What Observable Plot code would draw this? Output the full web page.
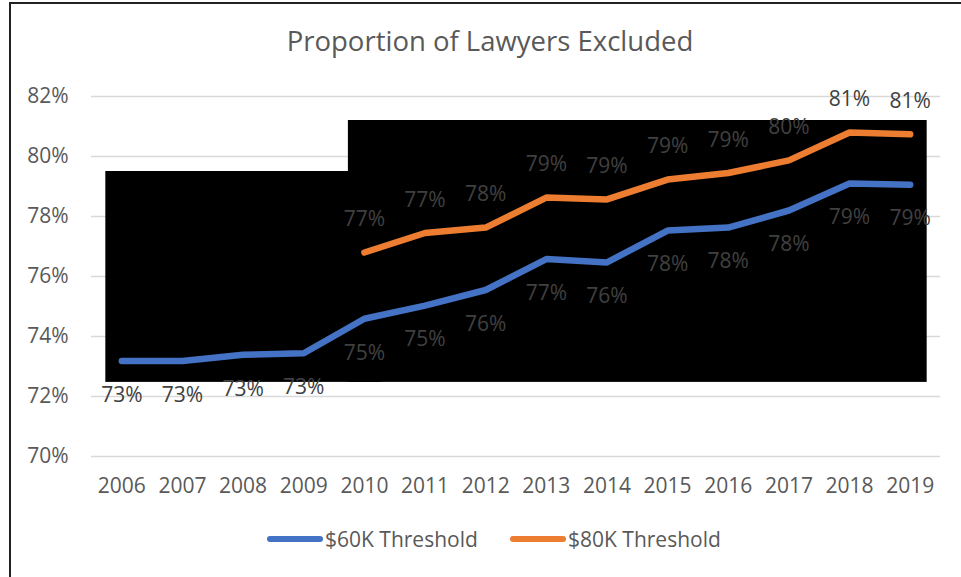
<!DOCTYPE html>
<html>
<head>
<meta charset="utf-8">
<script src="https://cdn.jsdelivr.net/npm/d3@7"></script>
<script src="https://cdn.jsdelivr.net/npm/@observablehq/plot@0.6"></script>
<style>
  html, body { margin: 0; padding: 0; background: #fff; }
  #frame { position: relative; width: 961px; height: 577px; overflow: hidden; background: #fff; font-family: "Open Sans", sans-serif; }
  #border { position: absolute; left: 9px; top: 2px; width: 960px; height: 580px; border-left: 2px solid #222; border-top: 2px solid #222; box-sizing: border-box; }
  #title { position: absolute; left: 0; width: 980px; top: 22px; text-align: center; font-size: 27.5px; color: #595959; }
  #chart { position: absolute; left: 0; top: 70px; }
  #legend { position: absolute; top: 525px; left: 0; width: 961px; height: 30px; font-size: 21px; color: #595959; }
  .item { position: absolute; top: 0; display: flex; align-items: center; }
  .swatch { width: 56px; height: 6px; border-radius: 3px; margin-right: 2px; }
</style>
</head>
<body>
<div id="frame">
  <div id="border"></div>
  <div id="title">Proportion of Lawyers Excluded</div>
  <div id="chart"></div>
  <div id="legend"></div>
</div>
<script>
const years = [2006, 2007, 2008, 2009, 2010, 2011, 2012, 2013, 2014, 2015, 2016, 2017, 2018, 2019];
const threshold60K = [73.18, 73.18, 73.39, 73.44, 74.59, 75.03, 75.55, 76.58, 76.47, 77.53, 77.63, 78.2, 79.1, 79.06];
const threshold80K = [null, null, null, null, 76.8, 77.45, 77.63, 78.63, 78.57, 79.23, 79.45, 79.87, 80.8, 80.74];
const seriesNames = ["$60K Threshold", "$80K Threshold"];
const seriesColors = ["#4472C4", "#ED7D31"];
const yTicks = [70, 72, 74, 76, 78, 80, 82];
// dark panels present in the reference image, in data units
const darkPanels = [
  {from: 2006, to: 2010, bottom: 72.47, top: 79.5},
  {from: 2010, to: 2019, bottom: 72.47, top: 81.2}
];

const rows = [];
years.forEach((yr, i) => {
  rows.push({year: yr, value: threshold60K[i], series: seriesNames[0]});
  if (threshold80K[i] != null) rows.push({year: yr, value: threshold80K[i], series: seriesNames[1]});
});
const s60 = rows.filter(d => d.series === seriesNames[0]);
const s80 = rows.filter(d => d.series === seriesNames[1]);

const chart = Plot.plot({
  width: 961,
  height: 440,
  marginTop: 26,
  marginBottom: 54,
  marginLeft: 91,
  marginRight: 21,
  style: {fontFamily: "Open Sans, sans-serif", background: "transparent", overflow: "visible"},
  x: {domain: [years[0] - 0.5, years[years.length - 1] + 0.5], ticks: years, tickFormat: d => String(d), tickSize: 0, tickPadding: 22, label: null},
  y: {domain: [70, 82], ticks: yTicks, tickFormat: d => d + "%", tickSize: 0, tickPadding: 23, label: null},
  color: {domain: seriesNames, range: seriesColors},
  marks: [
    Plot.ruleY(yTicks, {stroke: "#d9d9d9", strokeWidth: 1.3}),
    Plot.rect(darkPanels, {x1: "from", x2: "to", y1: "bottom", y2: "top", fill: "#000", insetLeft: -16, insetRight: -17}),
    Plot.line(rows, {x: "year", y: "value", stroke: "series", z: "series", strokeWidth: 6.5, strokeLinecap: "round", strokeLinejoin: "round"}),
    Plot.text(s60, {x: "year", y: "value", text: d => Math.round(d.value) + "%", dy: 34, fill: "#404040", fontSize: 21}),
    Plot.text(s80, {x: "year", y: "value", text: d => Math.round(d.value) + "%", dy: -33, fill: "#404040", fontSize: 21}),
    Plot.axisX({ticks: years, tickFormat: d => String(d), tickSize: 0, tickPadding: 22, fontSize: 21, fill: "#595959", label: null}),
    Plot.axisY({ticks: yTicks, tickFormat: d => d + "%", tickSize: 0, tickPadding: 23, fontSize: 21, fill: "#595959", label: null})
  ]
});
document.getElementById("chart").appendChild(chart);

const legend = document.getElementById("legend");
const lefts = [267, 510];
seriesNames.forEach((name, i) => {
  const item = document.createElement("div");
  item.className = "item";
  item.style.left = lefts[i] + "px";
  const sw = document.createElement("div");
  sw.className = "swatch";
  sw.style.background = seriesColors[i];
  const tx = document.createElement("span");
  tx.textContent = name;
  item.appendChild(sw);
  item.appendChild(tx);
  legend.appendChild(item);
});
</script>
</body>
</html>
